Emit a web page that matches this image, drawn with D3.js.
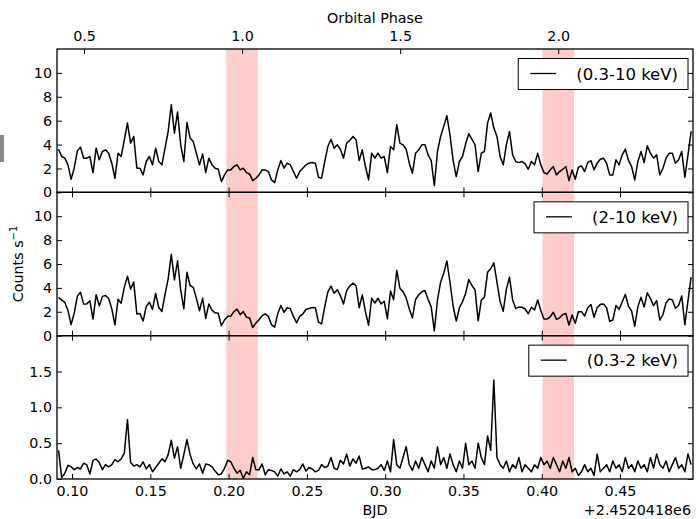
<!DOCTYPE html>
<html><head><meta charset="utf-8">
<script src="https://cdn.jsdelivr.net/npm/d3@7"></script>
<style>
body{margin:0;background:#fff}
text{font-family:"DejaVu Sans",sans-serif;fill:#000}
</style>
</head><body>
<svg id="c" width="697" height="519"></svg>
<script>
// Time bins: BJD - 2452041.8 (first bin centre, bin width in days)
const bjdStart = 0.0914;
const binWidth = 0.002;

// 0.3-10 keV count rate (counts/s)
const broad = [3.61,3.00,2.86,2.30,1.09,2.02,3.47,3.78,2.86,2.86,3.00,1.65,3.70,2.72,3.42,3.56,3.28,2.44,1.18,3.28,
3.00,4.40,5.80,4.12,4.68,2.02,2.02,1.46,2.58,3.00,2.30,3.70,2.58,2.30,3.70,5.10,7.34,4.96,6.72,3.98,
2.58,5.85,4.54,4.26,3.28,2.30,3.22,1.65,2.86,2.30,2.02,1.93,
0.90,1.46,1.88,1.88,2.16,2.30,1.88,2.02,1.65,1.54,0.98,1.18,1.46,1.88,1.88,1.74,1.04,0.81,1.88,2.66,
2.02,2.44,2.30,1.74,1.18,1.74,2.02,2.30,2.44,2.49,2.44,1.26,1.18,2.58,3.84,4.45,3.70,3.98,3.61,2.86,
4.12,4.34,4.68,4.40,2.66,3.56,2.16,1.04,3.28,2.86,3.28,
2.86,3.00,1.65,3.84,3.56,5.66,4.12,3.98,3.61,2.44,1.60,3.28,3.56,3.98,3.98,3.14,2.66,0.55,3.42,4.68,
5.52,6.41,4.82,2.66,1.32,2.58,3.00,4.06,4.90,4.45,3.98,1.74,3.28,3.42,5.80,6.64,5.38,4.68,3.00,2.30,
3.98,5.10,3.14,2.58,2.49,2.58,2.38,1.93,2.58,2.30,3.28,
2.30,1.65,1.54,1.88,2.16,1.46,1.74,1.93,2.16,0.98,1.88,1.09,2.10,2.21,1.74,2.49,2.66,1.88,2.44,2.77,
2.86,2.44,1.46,1.46,2.72,2.30,3.14,3.61,2.66,2.16,1.04,2.58,3.42,2.49,3.89,3.28,2.86,3.14,1.46,2.02,
2.86,3.28,3.28,2.44,2.72,3.42,1.26,3.14,5.10];

// 2-10 keV count rate
const hard = [3.21,2.98,2.78,2.11,0.92,1.89,3.31,3.64,2.64,2.66,2.93,1.39,3.42,2.49,3.29,3.36,3.11,2.24,0.91,3.04,
2.72,4.04,4.97,3.89,4.50,1.82,1.85,1.22,2.44,2.80,2.20,3.54,2.36,2.02,3.46,4.76,6.80,4.67,6.27,3.83,
2.24,5.30,4.20,4.05,3.14,2.09,3.14,1.44,2.66,2.13,1.91,1.87,
0.83,1.31,1.62,1.64,2.01,2.22,1.76,2.01,1.55,1.48,0.68,1.05,1.33,1.67,1.82,1.61,0.92,0.71,1.84,2.52,
1.95,2.34,2.26,1.61,1.08,1.61,1.81,2.19,2.28,2.35,2.34,1.14,0.98,2.42,3.66,4.15,3.55,3.85,3.35,2.65,
3.77,4.16,4.40,4.18,2.34,3.42,2.01,0.87,3.15,2.73,3.13,
2.66,2.88,1.40,3.74,3.01,5.46,3.97,3.68,3.16,2.24,1.48,3.03,3.41,3.68,3.78,3.04,2.41,0.40,2.97,4.48,
5.22,6.26,4.47,2.46,1.22,2.33,2.85,3.56,4.70,4.20,3.83,1.24,2.98,3.22,5.30,5.60,6.10,4.48,2.85,2.05,
3.88,4.90,2.99,2.28,2.39,2.38,2.23,1.83,2.38,2.15,2.98,
2.10,1.40,1.39,1.58,1.96,1.36,1.49,1.78,1.86,0.88,1.73,1.04,2.00,2.01,1.64,2.34,2.61,1.53,2.34,2.62,
2.66,2.34,1.21,1.31,2.52,2.20,2.84,3.46,2.46,2.06,0.79,2.43,3.22,2.39,3.59,3.13,2.51,2.94,1.31,1.77,
2.76,3.08,2.98,2.29,2.52,3.32,0.91,2.94,4.90];

// 0.3-2 keV count rate
const soft = [0.40,0.02,0.08,0.19,0.17,0.13,0.16,0.14,0.22,0.20,0.07,0.26,0.28,0.23,0.13,0.20,0.17,0.20,0.27,0.24,
0.28,0.36,0.83,0.23,0.18,0.20,0.17,0.24,0.14,0.20,0.10,0.16,0.22,0.28,0.24,0.34,0.54,0.29,0.45,0.15,
0.34,0.55,0.34,0.21,0.14,0.21,0.08,0.21,0.20,0.17,0.11,0.06,0.07,0.15,0.26,0.24,0.15,0.08,0.12,0.01,
0.10,0.06,0.30,0.13,0.13,0.21,0.06,0.13,0.12,0.10,0.04,0.14,0.07,0.10,0.04,0.13,0.10,0.13,0.21,0.11,
0.16,0.14,0.10,0.12,0.20,0.16,0.18,0.30,0.15,0.13,0.26,0.21,0.35,0.18,0.28,0.22,0.32,0.14,0.15,0.17,
0.13,0.13,
0.15,0.20,0.12,0.25,0.10,0.55,0.20,0.15,0.30,
0.45,0.20,0.12,0.25,0.15,0.30,0.20,0.10,0.25,0.15,
0.45,0.20,0.30,0.15,0.35,0.20,0.10,0.25,0.15,0.50,
0.20,0.25,0.15,0.50,0.30,0.20,0.60,0.40,1.38,0.30,
0.20,0.15,0.25,0.10,0.20,0.15,0.30,0.10,0.20,0.15,
0.10,0.20,0.15,0.30,0.20,0.25,0.15,0.30,0.20,0.10,
0.25,0.15,0.30,0.10,0.15,0.05,0.10,0.20,0.10,0.15,
0.05,0.35,0.10,0.15,0.20,0.10,0.25,0.15,0.20,0.10,
0.30,0.15,0.20,0.10,0.25,0.15,0.20,0.10,0.30,0.15,
0.35,0.20,0.15,0.25,0.10,0.20,0.30,0.15,0.20,0.10,0.35,0.20];

const bandLabels = ["(0.3-10 keV)", "(2-10 keV)", "(0.3-2 keV)"];
const countTicks = [0, 2, 4, 6, 8, 10];
const softTicks = [0.0, 0.5, 1.0, 1.5];
const bjdTicks = [0.10, 0.15, 0.20, 0.25, 0.30, 0.35, 0.40, 0.45];
const phaseTicks = [0.5, 1.0, 1.5, 2.0];
const eclipsePhases = [1.0, 2.0];
const eclipseHalfWidth = 0.05;      // in phase
const period = 0.2019;              // days
const phaseOneBJD = 0.2086;         // BJD of phase 1.0
const bjdDomain = [0.0904, 0.4966];
const bjdOffsetText = "+2.4520418e6";

const svg = d3.select("#c");
const mLeft = 57, mRight = 693, mTop = 49, panelH = 143.33;
const x = d3.scaleLinear().domain(bjdDomain).range([mLeft, mRight]);
const toPhase = t => 1 + (t - phaseOneBJD) / period;
const toBJD = p => phaseOneBJD + (p - 1) * period;
const xPhase = d3.scaleLinear().domain(bjdDomain.map(toPhase)).range([mLeft, mRight]);

const panels = [
  {data: broad, max: 12, ticks: countTicks, fmt: d3.format("d")},
  {data: hard, max: 12, ticks: countTicks, fmt: d3.format("d")},
  {data: soft, max: 2, ticks: softTicks, fmt: d3.format(".1f")}
];

const fontSize = 14.3;
const tickLen = 5;

panels.forEach((p, i) => {
  const y0 = mTop + i * panelH, y1 = y0 + panelH;
  const y = d3.scaleLinear().domain([0, p.max]).range([y1, y0]);
  const g = svg.append("g");
  const clipId = "clip" + i;
  svg.append("clipPath").attr("id", clipId).append("rect")
    .attr("x", mLeft).attr("y", y0).attr("width", mRight - mLeft).attr("height", panelH);

  g.selectAll("rect.ecl").data(eclipsePhases).enter().append("rect")
    .attr("class", "ecl")
    .attr("x", d => x(toBJD(d - eclipseHalfWidth)))
    .attr("width", d => x(toBJD(d + eclipseHalfWidth)) - x(toBJD(d - eclipseHalfWidth)))
    .attr("y", y0).attr("height", panelH)
    .attr("fill", "#ff0000").attr("fill-opacity", 0.2);

  const line = d3.line().x((d, k) => x(bjdStart + k * binWidth)).y(d => y(d));
  g.append("path").datum(p.data).attr("d", line)
    .attr("clip-path", `url(#${clipId})`)
    .attr("fill", "none").attr("stroke", "#000").attr("stroke-width", 1.5)
    .attr("stroke-linejoin", "round");

  g.append("g").attr("transform", `translate(${mLeft},0)`)
    .call(d3.axisLeft(y).tickValues(p.ticks).tickFormat(p.fmt).tickSize(-tickLen).tickPadding(5));
  g.append("g").attr("transform", `translate(${mRight},0)`)
    .call(d3.axisRight(y).tickValues(p.ticks).tickFormat("").tickSize(-tickLen));
  g.append("g").attr("transform", `translate(0,${y1})`)
    .call(d3.axisBottom(x).tickValues(bjdTicks).tickFormat(i === 2 ? d3.format(".2f") : "").tickSize(-tickLen).tickPadding(7));
  if (i > 0) {
    g.append("g").attr("transform", `translate(0,${y0})`)
      .call(d3.axisTop(x).tickValues(bjdTicks).tickFormat("").tickSize(-tickLen));
  } else {
    g.append("g").attr("transform", `translate(0,${y0})`)
      .call(d3.axisTop(xPhase).tickValues(phaseTicks).tickFormat(d3.format(".1f")).tickSize(-tickLen).tickPadding(8));
  }
  g.selectAll(".domain").remove();
  g.selectAll(".tick line").attr("stroke", "#000").attr("stroke-width", 1);
  g.selectAll(".tick text").attr("font-size", fontSize).attr("font-family", "DejaVu Sans").attr("fill", "#000");

  g.append("rect").attr("x", mLeft).attr("y", y0).attr("width", mRight - mLeft).attr("height", panelH)
    .attr("fill", "none").attr("stroke", "#000").attr("stroke-width", 1.3);

  const lg = g.append("g");
  const txt = lg.append("text").text(bandLabels[i]).attr("font-size", 16.5)
    .attr("text-anchor", "end").attr("x", 678).attr("y", y0 + 30.5);
  const tw = txt.node().getComputedTextLength();
  const tStart = 678 - tw;
  const bx = tStart - 20 - 26 - 12;
  lg.insert("rect", "text").attr("x", bx).attr("y", y0 + 9.5).attr("width", 688 - bx).attr("height", 31)
    .attr("fill", "#fff").attr("stroke", "#000").attr("stroke-width", 1);
  lg.append("line").attr("x1", bx + 12).attr("x2", bx + 38).attr("y1", y0 + 24.5).attr("y2", y0 + 24.5)
    .attr("stroke", "#000").attr("stroke-width", 1.3);
});

svg.append("text").text("Orbital Phase").attr("x", (mLeft + mRight) / 2).attr("y", 23)
  .attr("text-anchor", "middle").attr("font-size", fontSize);
svg.append("text").text("BJD").attr("x", (mLeft + mRight) / 2).attr("y", 515)
  .attr("text-anchor", "middle").attr("font-size", fontSize);
svg.append("text").text(bjdOffsetText).attr("x", 691).attr("y", 515)
  .attr("text-anchor", "end").attr("font-size", fontSize);
const ylab = svg.append("text").attr("transform", `translate(23,${mTop + 1.5 * panelH}) rotate(-90)`)
  .attr("text-anchor", "middle").attr("font-size", fontSize);
ylab.append("tspan").text("Counts s");
ylab.append("tspan").text("\u22121").attr("font-size", 10).attr("dy", -6);

svg.append("rect").attr("x", 0).attr("y", 135).attr("width", 4).attr("height", 27).attr("fill", "#888");
</script>
</body></html>
